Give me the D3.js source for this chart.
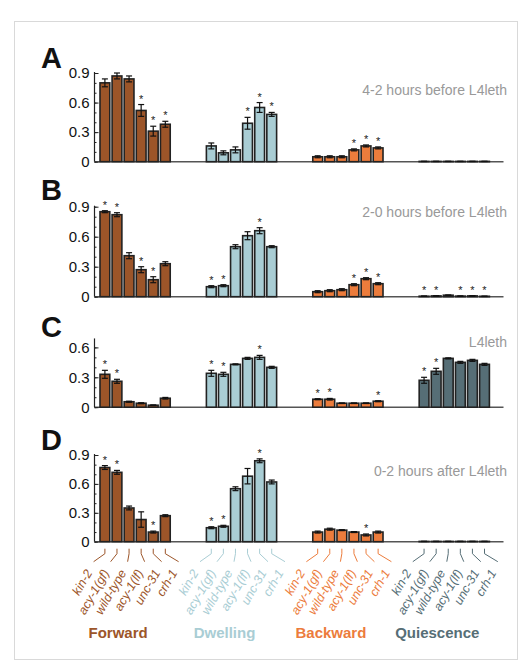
<!DOCTYPE html>
<html>
<head>
<meta charset="utf-8">
<script src="https://cdn.jsdelivr.net/npm/d3@7"></script>
<style>
  body { margin: 0; background: #fff; }
  svg { font-family: "Liberation Sans", Arial, sans-serif; }
</style>
</head>
<body>
<svg id="chart" width="528" height="671"></svg>
<script>
"use strict";

// categories
const groups = ["Forward", "Dwelling", "Backward", "Quiescence"];
const strains = ["kin-2", "acy-1(gf)", "wild-type", "acy-1(lf)", "unc-31", "crh-1"];
const panelLetters = ["A", "B", "C", "D"];
const periods = ["4-2 hours before L4leth", "2-0 hours before L4leth", "L4leth", "0-2 hours after L4leth"];
const yTicksA = [0, 0.3, 0.6, 0.9];
const yTicksC = [0, 0.3, 0.6];

// fraction of time, one row per behaviour group (Forward, Dwelling, Backward, Quiescence)
const meanA = [
  [0.80, 0.87, 0.84, 0.52, 0.31, 0.38],
  [0.16, 0.09, 0.12, 0.39, 0.55, 0.48],
  [0.05, 0.05, 0.05, 0.12, 0.16, 0.14],
  [0.003, 0.003, 0.003, 0.003, 0.003, 0.003]
];
const errA = [
  [0.04, 0.03, 0.03, 0.06, 0.05, 0.03],
  [0.03, 0.02, 0.03, 0.06, 0.05, 0.02],
  [0.01, 0.01, 0.01, 0.01, 0.01, 0.01],
  [0.001, 0.001, 0.001, 0.001, 0.001, 0.001]
];
const sigA = [
  [0, 0, 0, 1, 1, 1],
  [0, 0, 0, 1, 1, 1],
  [0, 0, 0, 1, 1, 1],
  [0, 0, 0, 0, 0, 0]
];

const meanB = [
  [0.85, 0.82, 0.41, 0.27, 0.17, 0.33],
  [0.10, 0.11, 0.50, 0.61, 0.66, 0.50],
  [0.05, 0.06, 0.07, 0.12, 0.18, 0.13],
  [0.005, 0.008, 0.015, 0.006, 0.008, 0.004]
];
const errB = [
  [0.01, 0.02, 0.03, 0.03, 0.03, 0.02],
  [0.01, 0.01, 0.02, 0.04, 0.03, 0.01],
  [0.01, 0.01, 0.01, 0.01, 0.01, 0.01],
  [0.002, 0.002, 0.002, 0.002, 0.002, 0.002]
];
const sigB = [
  [1, 1, 0, 1, 1, 0],
  [1, 1, 0, 0, 1, 0],
  [0, 0, 0, 1, 1, 1],
  [1, 1, 0, 1, 1, 1]
];

const meanC = [
  [0.33, 0.26, 0.055, 0.04, 0.02, 0.09],
  [0.34, 0.33, 0.43, 0.49, 0.50, 0.40],
  [0.08, 0.08, 0.04, 0.04, 0.04, 0.06],
  [0.27, 0.36, 0.49, 0.45, 0.47, 0.43]
];
const errC = [
  [0.04, 0.02, 0.005, 0.005, 0.003, 0.008],
  [0.03, 0.02, 0.005, 0.01, 0.02, 0.01],
  [0.005, 0.008, 0.003, 0.003, 0.003, 0.005],
  [0.03, 0.03, 0.005, 0.01, 0.01, 0.01]
];
const sigC = [
  [1, 1, 0, 0, 0, 0],
  [1, 1, 0, 0, 1, 0],
  [1, 1, 0, 0, 0, 1],
  [1, 1, 0, 0, 0, 0]
];

const meanD = [
  [0.77, 0.72, 0.35, 0.23, 0.10, 0.27],
  [0.145, 0.16, 0.55, 0.68, 0.84, 0.62],
  [0.10, 0.13, 0.12, 0.10, 0.07, 0.10],
  [0.003, 0.003, 0.003, 0.003, 0.003, 0.003]
];
const errD = [
  [0.02, 0.02, 0.02, 0.08, 0.01, 0.01],
  [0.01, 0.01, 0.02, 0.08, 0.02, 0.02],
  [0.01, 0.01, 0.005, 0.005, 0.01, 0.01],
  [0.001, 0.001, 0.001, 0.001, 0.001, 0.001]
];
const sigD = [
  [1, 1, 0, 0, 1, 0],
  [1, 1, 0, 0, 1, 0],
  [0, 0, 0, 0, 1, 0],
  [0, 0, 0, 0, 0, 0]
];

const groupColors = ["#9c5529", "#a9cdd4", "#ec7c3c", "#566e76"];

// layout for each panel
const panels = [
  { letter: panelLetters[0], period: periods[0], mean: meanA, err: errA, sig: sigA, ticks: yTicksA, base: 161.7, top: 73.0, axisTop: 0.91, letterY: 68, titleY: 95 },
  { letter: panelLetters[1], period: periods[1], mean: meanB, err: errB, sig: sigB, ticks: yTicksA, base: 296.7, top: 206.7, axisTop: 0.91, letterY: 200, titleY: 217 },
  { letter: panelLetters[2], period: periods[2], mean: meanC, err: errC, sig: sigC, ticks: yTicksC, base: 407.2, top: 347.4, axisTop: 0.69, letterY: 337, titleY: 347 },
  { letter: panelLetters[3], period: periods[3], mean: meanD, err: errD, sig: sigD, ticks: yTicksA, base: 541.7, top: 455.0, axisTop: 0.91, letterY: 450, titleY: 476 }
];

const svg = d3.select("#chart");

// light frame round the figure
svg.append("rect")
  .attr("x", 14.5).attr("y", 21.5)
  .attr("width", 503).attr("height", 638)
  .attr("fill", "none")
  .attr("stroke", "#d9d9d9");

const axisX = 94.5;
const xEnd = 503.5;

// group and bar positions
const xGroup = d3.scaleBand()
  .domain(groups)
  .range([100, 489.4])
  .paddingInner(0.34)
  .paddingOuter(0);

const xBar = d3.scaleBand()
  .domain(strains)
  .range([0, xGroup.bandwidth()])
  .paddingInner(0.19)
  .paddingOuter(0.0);

// strain labels fan out wider than the bars
const xLabel = d3.scalePoint()
  .domain(strains)
  .range([-42.5, 42.5]);

panels.forEach(function (p) {

  const tickMax = p.ticks[p.ticks.length - 1];
  const y = d3.scaleLinear().domain([0, tickMax]).range([p.base, p.top]);

  const g = svg.append("g");

  // panel letter
  g.append("text")
    .attr("x", 41).attr("y", p.letterY)
    .attr("font-size", 29).attr("font-weight", "bold")
    .attr("fill", "#111")
    .text(p.letter);

  // time period
  g.append("text")
    .attr("x", 507).attr("y", p.titleY)
    .attr("text-anchor", "end")
    .attr("font-size", 14)
    .attr("fill", "#999")
    .text(p.period);

  // x baseline (under the bars)
  g.append("line")
    .attr("x1", axisX).attr("x2", xEnd)
    .attr("y1", p.base).attr("y2", p.base)
    .attr("stroke", "#555")
    .attr("stroke-width", 1.4);

  // bars
  groups.forEach(function (grp, gi) {
    const bars = g.append("g")
      .attr("transform", "translate(" + xGroup(grp) + ",0)");

    const rows = strains.map(function (s, si) {
      return { strain: s, v: p.mean[gi][si], e: p.err[gi][si], sig: p.sig[gi][si] };
    });

    bars.selectAll("rect")
      .data(rows)
      .enter()
      .append("rect")
      .attr("x", d => xBar(d.strain))
      .attr("y", d => y(d.v))
      .attr("width", xBar.bandwidth())
      .attr("height", d => p.base - y(d.v))
      .attr("fill", groupColors[gi])
      .attr("stroke", "#222")
      .attr("stroke-width", 1.6);

    // error bars
    const eb = bars.selectAll("g.err")
      .data(rows)
      .enter()
      .append("g")
      .attr("class", "err")
      .attr("stroke", "#111")
      .attr("stroke-width", 1.2);

    const cx = d => xBar(d.strain) + xBar.bandwidth() / 2;
    eb.append("line")
      .attr("x1", cx).attr("x2", cx)
      .attr("y1", d => y(d.v + d.e)).attr("y2", d => y(Math.max(0, d.v - d.e)));
    eb.append("line")
      .attr("x1", d => cx(d) - 3).attr("x2", d => cx(d) + 3)
      .attr("y1", d => y(d.v + d.e)).attr("y2", d => y(d.v + d.e));
    eb.append("line")
      .attr("x1", d => cx(d) - 3).attr("x2", d => cx(d) + 3)
      .attr("y1", d => y(Math.max(0, d.v - d.e))).attr("y2", d => y(Math.max(0, d.v - d.e)));

    // significance stars
    bars.selectAll("text.star")
      .data(rows.filter(d => d.sig))
      .enter()
      .append("text")
      .attr("class", "star")
      .attr("x", cx)
      .attr("y", d => y(d.v + d.e) - 2)
      .attr("text-anchor", "middle")
      .attr("font-size", 11)
      .attr("fill", "#222")
      .text("*");
  });

  // y axis with minor ticks pointing inward
  const minor = d3.range(0, p.axisTop, 0.1);
  g.append("g")
    .attr("transform", "translate(" + axisX + ",0)")
    .call(d3.axisLeft(y).tickValues(minor).tickSize(-2).tickFormat(""))
    .call(a => a.select(".domain").remove())
    .selectAll("line").attr("stroke", "#222");

  const yAxis = g.append("g")
    .attr("transform", "translate(" + axisX + ",0)")
    .call(d3.axisLeft(y)
      .tickValues(p.ticks)
      .tickSize(-4)
      .tickSizeOuter(0)
      .tickPadding(5)
      .tickFormat(d => d === 0 ? "0" : d3.format(".1f")(d)));
  yAxis.select(".domain").remove();
  yAxis.selectAll("line").attr("stroke", "#222");
  yAxis.selectAll("text")
    .attr("font-size", 15)
    .attr("font-family", "Liberation Sans, Arial, sans-serif")
    .attr("fill", "#111");

  g.append("line")
    .attr("x1", axisX).attr("x2", axisX)
    .attr("y1", p.base).attr("y2", y(p.axisTop))
    .attr("stroke", "#222")
    .attr("stroke-width", 1.2);
});

// strain labels with leader lines under the last panel
const last = panels[panels.length - 1];
groups.forEach(function (grp, gi) {
  const center = xGroup(grp) + xGroup.bandwidth() / 2;
  strains.forEach(function (s) {
    const cx = xGroup(grp) + xBar(s) + xBar.bandwidth() / 2;
    const ax = center + xLabel(s);
    const b = last.base;
    svg.append("path")
      .attr("d", "M" + cx + "," + (b + 7) + "V" + (b + 12) + "L" + (ax + 1) + "," + (b + 20))
      .attr("fill", "none")
      .attr("stroke", groupColors[gi])
      .attr("stroke-width", 1);
    svg.append("text")
      .attr("transform", "translate(" + ax + "," + (b + 31) + ") rotate(-60)")
      .attr("text-anchor", "end")
      .attr("font-size", 12.5)
      .attr("font-style", "italic")
      .attr("fill", groupColors[gi])
      .text(s);
  });

  // group title
  svg.append("text")
    .attr("x", center - 17)
    .attr("y", 638)
    .attr("text-anchor", "middle")
    .attr("font-size", 15)
    .attr("font-weight", "bold")
    .attr("fill", groupColors[gi])
    .text(grp);
});
</script>
</body>
</html>
